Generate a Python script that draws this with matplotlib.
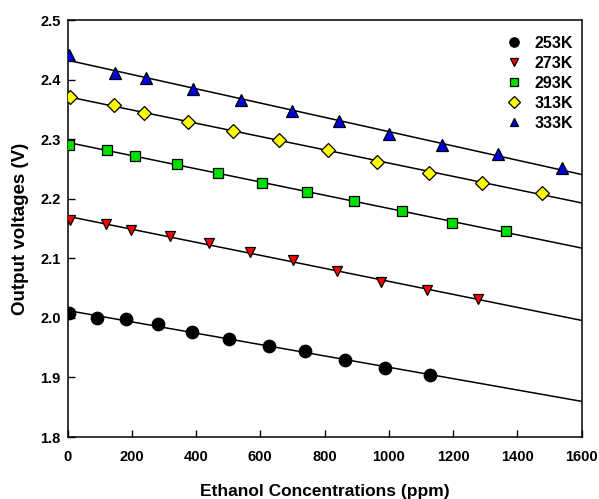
import numpy as np
import matplotlib
matplotlib.use('Agg')
import matplotlib.pyplot as plt
from matplotlib.lines import Line2D

plt.rcParams['font.family'] = ['Liberation Sans', 'DejaVu Sans']
plt.rcParams['font.weight'] = 'bold'

# data
conc_253 = [5, 91, 182, 282, 388, 504, 626, 739, 864, 989, 1128]
volt_253 = [2.009, 2.000, 1.998, 1.989, 1.977, 1.964, 1.953, 1.944, 1.930, 1.916, 1.904]

conc_273 = [8, 119, 198, 319, 440, 568, 703, 840, 975, 1120, 1277]
volt_273 = [2.165, 2.158, 2.148, 2.137, 2.126, 2.111, 2.097, 2.079, 2.061, 2.046, 2.031]

conc_293 = [6, 124, 210, 340, 469, 606, 746, 892, 1042, 1198, 1365]
volt_293 = [2.291, 2.282, 2.272, 2.259, 2.243, 2.227, 2.212, 2.196, 2.179, 2.159, 2.145]

conc_313 = [7, 146, 238, 374, 514, 659, 810, 964, 1126, 1289, 1478]
volt_313 = [2.371, 2.357, 2.344, 2.329, 2.313, 2.299, 2.282, 2.262, 2.243, 2.227, 2.210]

conc_333 = [6, 148, 245, 392, 539, 698, 845, 1002, 1166, 1339, 1538]
volt_333 = [2.441, 2.411, 2.402, 2.384, 2.366, 2.348, 2.331, 2.308, 2.291, 2.275, 2.252]

labels = ['253K', '273K', '293K', '313K', '333K']
series = [(conc_253, volt_253), (conc_273, volt_273), (conc_293, volt_293),
          (conc_313, volt_313), (conc_333, volt_333)]
markers = ['o', 'v', 's', 'D', '^']
colors = ['black', '#ff0000', '#00e000', '#ffff00', '#0000dd']
msizes = [9, 7.5, 7.5, 7.5, 8]

fig = plt.figure(figsize=(5.99, 4.99), dpi=100)
ax = fig.add_axes([0.1127, 0.1242, 0.8581, 0.8357])

xfit = np.array([0, 1600])
handles = []
for (x, y), m, c, s, lab in zip(series, markers, colors, msizes, labels):
    p = np.polyfit(x, y, 1)
    ax.plot(xfit, np.polyval(p, xfit), color='black', lw=1.1, zorder=1)
    ax.plot(x, y, linestyle='none', marker=m, ms=s, mfc=c, mec='black', mew=0.9, zorder=3)
    handles.append(Line2D([], [], linestyle='none', marker=m, ms=s * 0.75, mfc=c,
                          mec='black', mew=0.9, label=lab))

ax.set_xlim(0, 1600)
ax.set_ylim(1.8, 2.5)
ax.set_xticks(np.arange(0, 1601, 200))
ax.set_yticks(np.arange(1.8, 2.51, 0.1))
ax.set_yticklabels(['%.1f' % v for v in np.arange(1.8, 2.51, 0.1)])
ax.tick_params(direction='in', length=5, width=1, labelsize=10.5)
ax.tick_params(axis='x', pad=9)
ax.tick_params(axis='y', pad=5)
for sp in ax.spines.values():
    sp.set_linewidth(1.1)

ax.set_xlabel('Ethanol Concentrations (ppm)', fontsize=12.5, fontweight='bold', labelpad=15)
ax.set_ylabel('Output voltages (V)', fontsize=13.5, fontweight='bold', labelpad=8)

leg = ax.legend(handles=handles, loc='upper right', frameon=False, fontsize=11.5,
                handletextpad=0.7, labelspacing=0.32, borderaxespad=0.1,
                handlelength=1.2, bbox_to_anchor=(1.0, 0.982))

fig.savefig('out.png', dpi=100)
